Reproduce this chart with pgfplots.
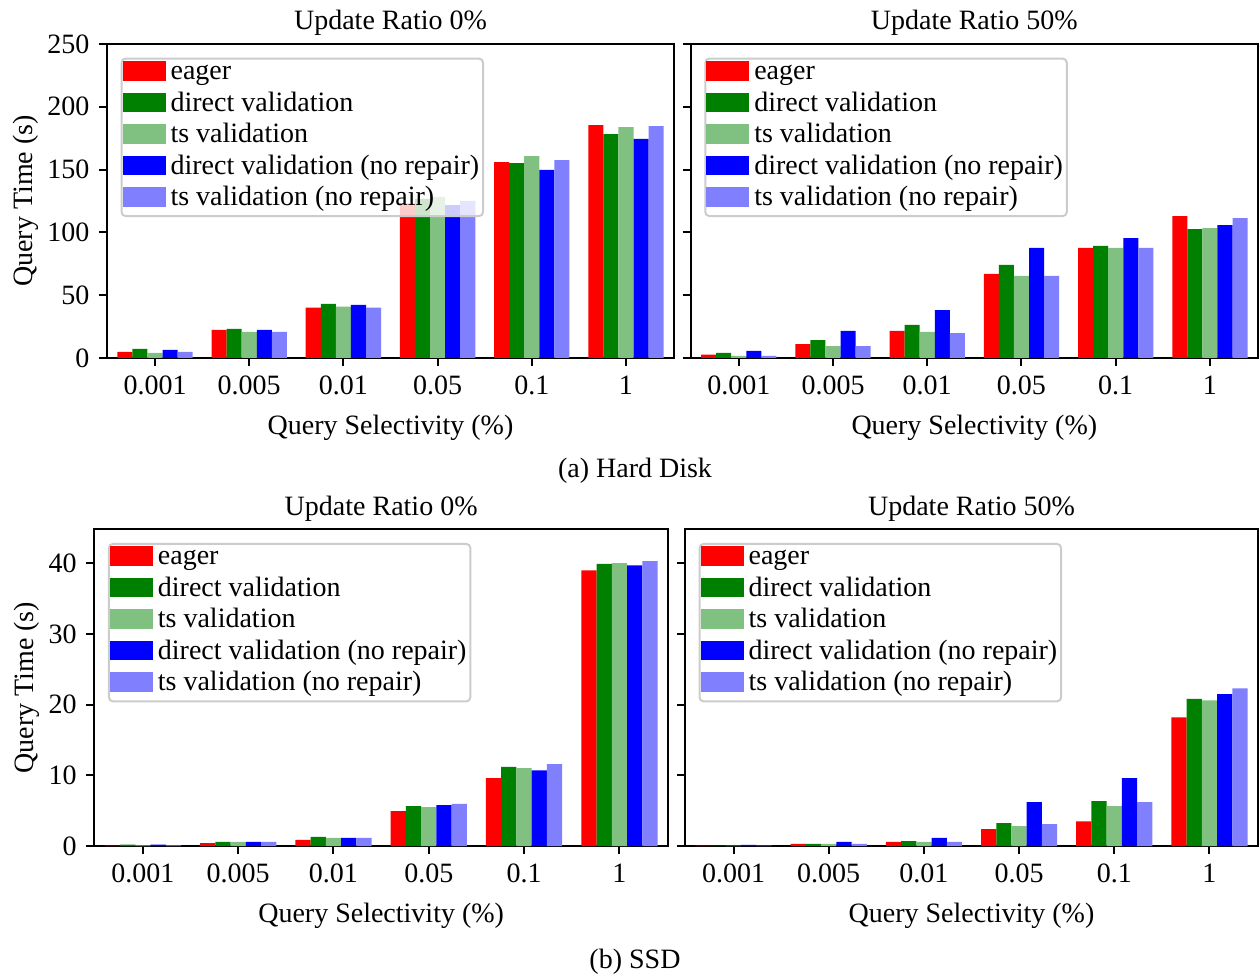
\documentclass[border=0pt]{standalone}
\usepackage{fontspec}
\setmainfont{Liberation Serif}
\usepackage{pgfplots}
\usepackage{pgfplotstable}
\pgfplotsset{compat=1.18}

\definecolor{cred}{RGB}{255,0,0}
\definecolor{cgreen}{RGB}{0,128,0}
\definecolor{clgreen}{RGB}{128,192,128}
\definecolor{cblue}{RGB}{0,0,255}
\definecolor{clblue}{RGB}{128,128,255}

\pgfplotstableread{
x eager direct ts dnr tnr
0 4.8 7.2 4.0 6.4 4.8
1 22.3 23.1 20.7 22.3 20.7
2 40.1 43.0 40.9 42.2 40.1
3 123.2 126.6 128.2 121.8 125.0
4 156.0 155.2 160.8 149.7 157.6
5 185.5 178.3 183.9 174.4 184.7
}\tabA
\pgfplotstableread{
x eager direct ts dnr tnr
0 2.7 4.0 1.6 5.6 1.6
1 11.1 14.3 9.5 21.5 9.5
2 21.5 26.3 20.7 38.2 19.9
3 66.9 74.1 65.3 87.6 65.3
4 87.6 89.2 87.6 95.5 87.6
5 113.0 102.6 103.4 105.8 111.4
}\tabB
\pgfplotstableread{
x eager direct ts dnr tnr
0 0.05 0.2 0.1 0.2 0.1
1 0.4 0.6 0.6 0.6 0.6
2 0.85 1.3 1.15 1.15 1.15
3 4.95 5.65 5.5 5.8 5.95
4 9.6 11.2 11.0 10.7 11.6
5 39.0 39.9 40.0 39.7 40.3
}\tabC
\pgfplotstableread{
x eager direct ts dnr tnr
0 0.05 0.05 0.05 0.15 0.05
1 0.3 0.3 0.3 0.6 0.3
2 0.6 0.7 0.6 1.15 0.6
3 2.4 3.25 2.8 6.2 3.1
4 3.5 6.35 5.65 9.6 6.2
5 18.2 20.8 20.6 21.5 22.3
}\tabD

\pgfplotsset{
  mylegimg/.style={legend image code/.code={%
      \path[draw=none, fill=none] (0pt,-5pt) rectangle (22.6pt,10pt);
      \path[##1, draw=none, sharp corners, fill opacity=1, draw opacity=0] (0pt,-0.5pt) rectangle (21.5pt,9.3pt);}},
  mybase/.style={
    scale only axis,
    ybar=0pt, bar width=0.16,
    every axis plot post/.append style={mylegimg},
    xmin=-0.51, xmax=5.51, ymin=0,
    xtick={0,...,5}, xticklabels={0.001,0.005,0.01,0.05,0.1,1},
    tick align=outside, tick pos=left, major tick length=4pt,
    axis line style={line width=1pt},
    every tick/.style={black, line width=1pt},
    /pgf/number format/assume math mode=true,
    xlabel={Query Selectivity (\%)},
    xlabel style={at={(axis description cs:0.5,0)}, anchor=base, yshift=-38pt},
    title style={at={(axis description cs:0.5,1)}, anchor=base, yshift=1pt},
    legend style={at={(0,1)}, anchor=north west, xshift=6.8pt, yshift=-6.8pt,
      draw=black!20, line width=1pt, rounded corners=2pt, fill=white, fill opacity=0.8, text opacity=1,
      inner xsep=0.5pt, inner ysep=0pt, row sep=0pt, column sep=0pt,
      cells={anchor=base west},
      nodes={inner xsep=1.4pt, inner ysep=1pt, outer sep=0pt, text height=9.5pt, text depth=4.25pt}},
  },
  s1/.style={fill=cred, draw=none, bar shift=-0.32},
  s2/.style={fill=cgreen, draw=none, bar shift=-0.16},
  s3/.style={fill=clgreen, draw=none, bar shift=0},
  s4/.style={fill=cblue, draw=none, bar shift=0.16},
  s5/.style={fill=clblue, draw=none, bar shift=0.32},
}

\begin{document}
\fontsize{14}{16.8}\selectfont
\begin{tikzpicture}
\useasboundingbox (0,0) rectangle (629.5pt,488pt);

% top-left
\begin{axis}[mybase, at={(53.5pt,309pt)}, anchor=south west,
  width=283.5pt, height=157pt, ymax=250, ytick={0,50,100,150,200,250},
  title={Update Ratio 0\%}, ylabel={Query Time (s)},
  ylabel style={at={([xshift=-37pt]axis description cs:0,0.5)}, anchor=base}]
\addplot[s1] table[x=x,y=eager]{\tabA};
\addplot[s2] table[x=x,y=direct]{\tabA};
\addplot[s3] table[x=x,y=ts]{\tabA};
\addplot[s4] table[x=x,y=dnr]{\tabA};
\addplot[s5] table[x=x,y=tnr]{\tabA};
\legend{eager,direct validation,ts validation,direct validation (no repair),ts validation (no repair)}
\end{axis}

% top-right
\begin{axis}[mybase, at={(345.35pt,309pt)}, anchor=south west,
  width=283.65pt, height=157pt, ymax=250, ytick={0,50,100,150,200,250}, yticklabels={},
  title={Update Ratio 50\%}]
\addplot[s1] table[x=x,y=eager]{\tabB};
\addplot[s2] table[x=x,y=direct]{\tabB};
\addplot[s3] table[x=x,y=ts]{\tabB};
\addplot[s4] table[x=x,y=dnr]{\tabB};
\addplot[s5] table[x=x,y=tnr]{\tabB};
\legend{eager,direct validation,ts validation,direct validation (no repair),ts validation (no repair)}
\end{axis}

% bottom-left
\begin{axis}[mybase, at={(47.15pt,65pt)}, anchor=south west,
  width=286.85pt, height=158.35pt, ymax=44.8, ytick={0,10,20,30,40},
  title={Update Ratio 0\%}, ylabel={Query Time (s)},
  ylabel style={at={([xshift=-30.5pt]axis description cs:0,0.5)}, anchor=base}]
\addplot[s1] table[x=x,y=eager]{\tabC};
\addplot[s2] table[x=x,y=direct]{\tabC};
\addplot[s3] table[x=x,y=ts]{\tabC};
\addplot[s4] table[x=x,y=dnr]{\tabC};
\addplot[s5] table[x=x,y=tnr]{\tabC};
\legend{eager,direct validation,ts validation,direct validation (no repair),ts validation (no repair)}
\end{axis}

% bottom-right
\begin{axis}[mybase, at={(342.5pt,65pt)}, anchor=south west,
  width=286.5pt, height=158.35pt, ymax=44.8, ytick={0,10,20,30,40}, yticklabels={},
  title={Update Ratio 50\%}]
\addplot[s1] table[x=x,y=eager]{\tabD};
\addplot[s2] table[x=x,y=direct]{\tabD};
\addplot[s3] table[x=x,y=ts]{\tabD};
\addplot[s4] table[x=x,y=dnr]{\tabD};
\addplot[s5] table[x=x,y=tnr]{\tabD};
\legend{eager,direct validation,ts validation,direct validation (no repair),ts validation (no repair)}
\end{axis}

\node[anchor=base] at (317.5pt,249pt) {(a) Hard Disk};
\node[anchor=base] at (317.5pt,4pt) {(b) SSD};
\end{tikzpicture}
\end{document}
